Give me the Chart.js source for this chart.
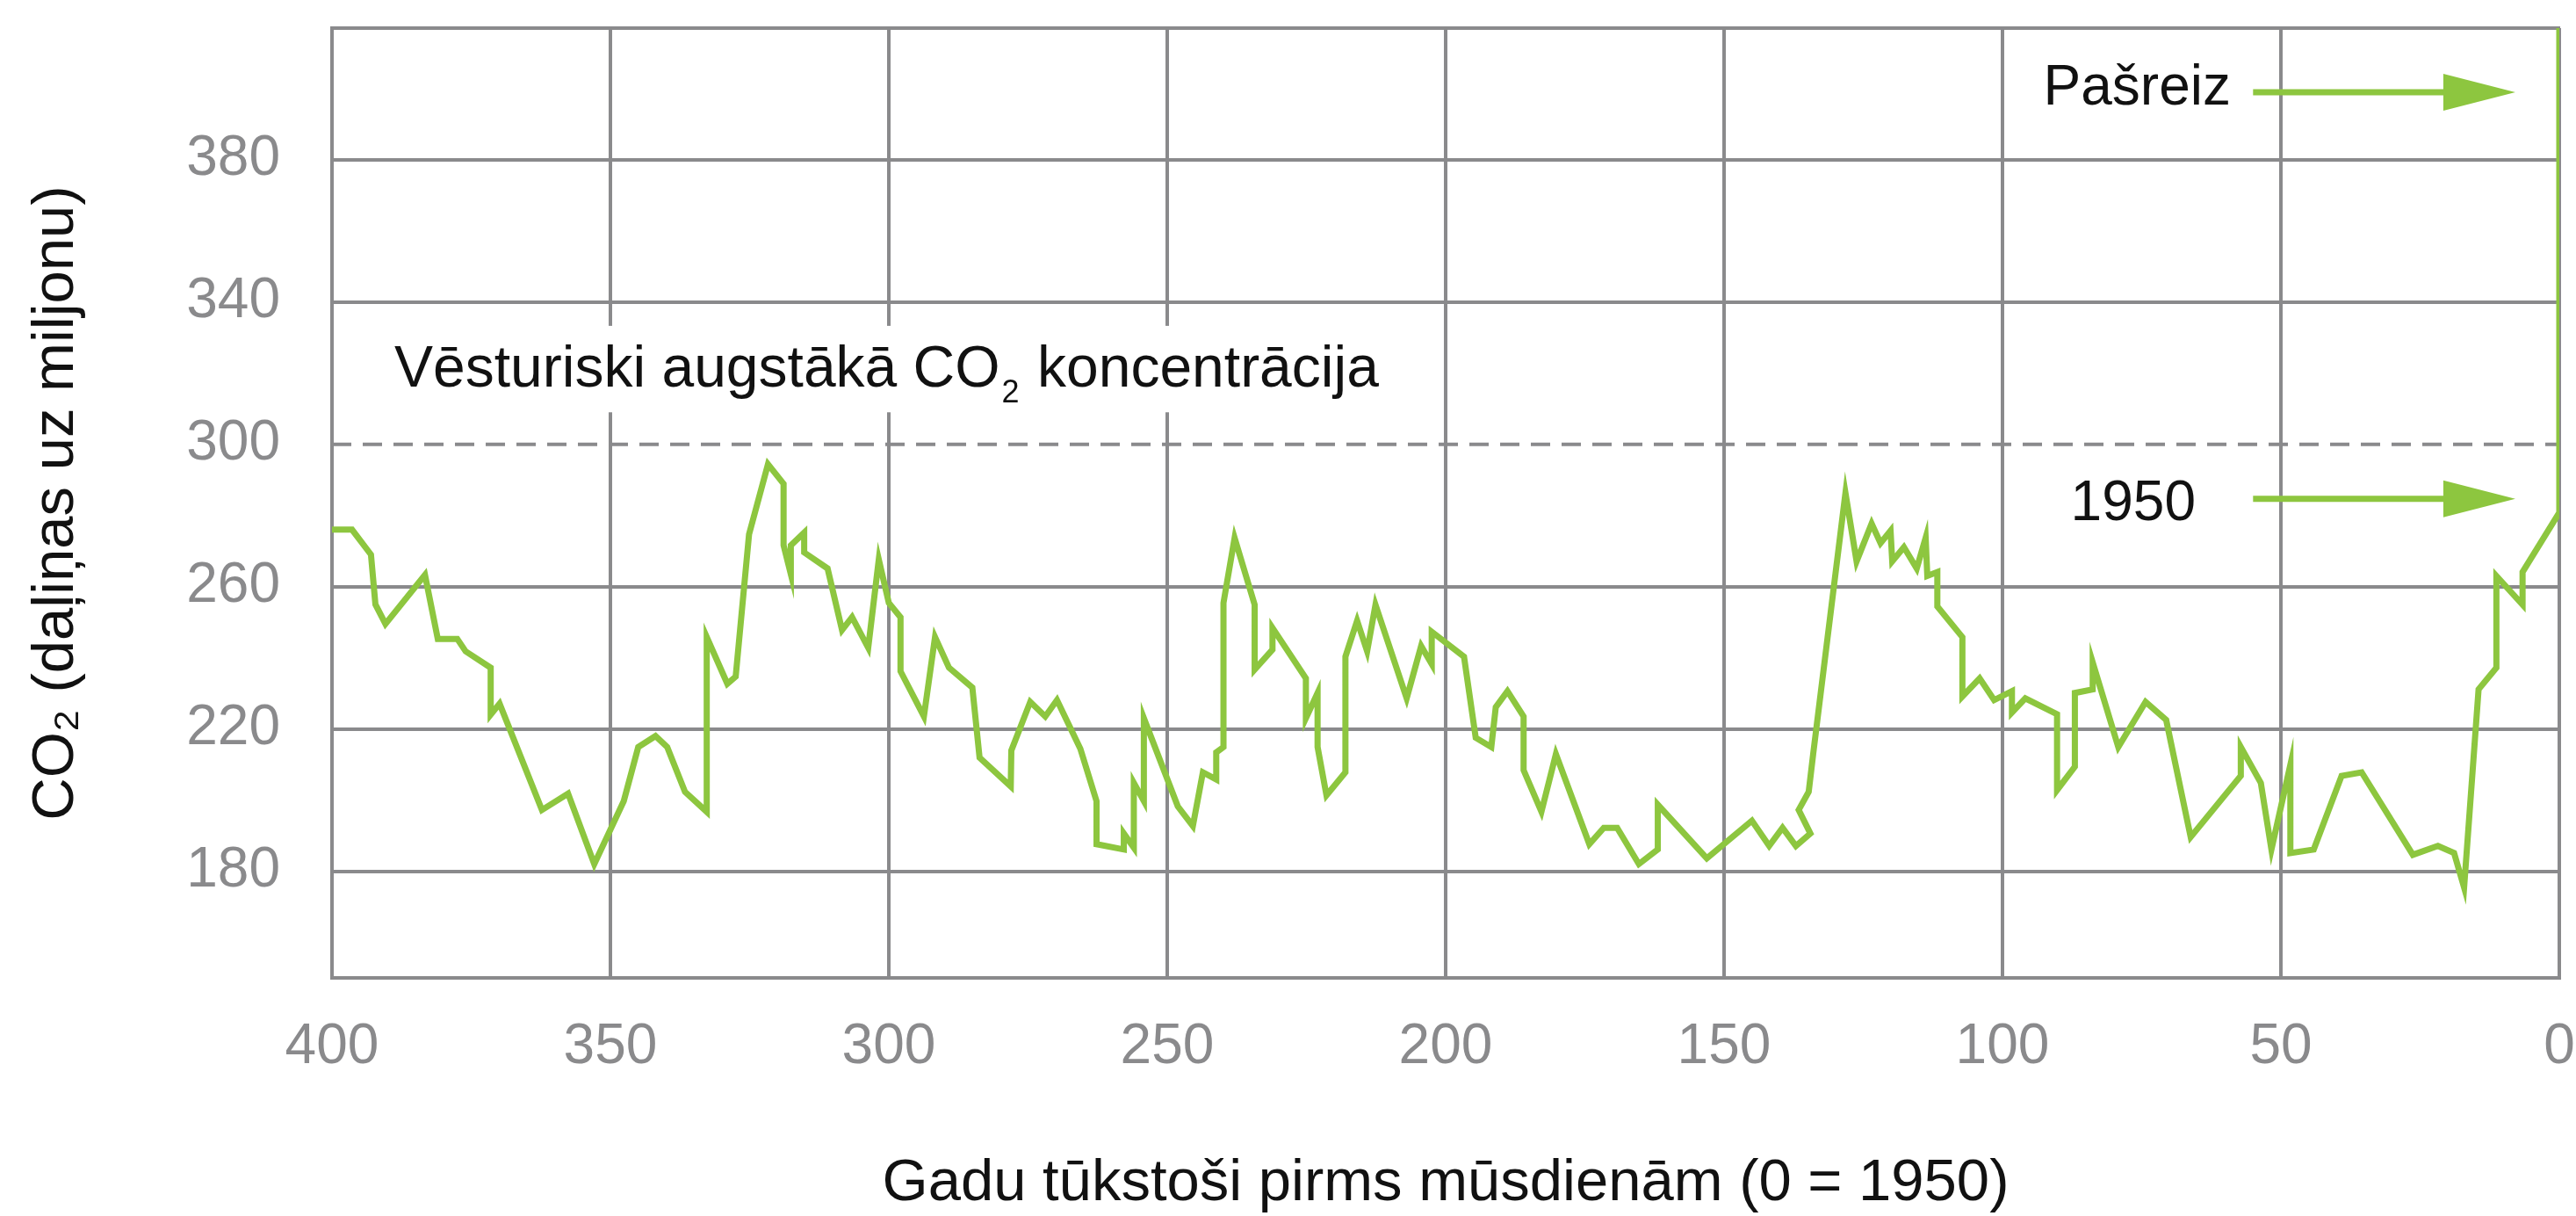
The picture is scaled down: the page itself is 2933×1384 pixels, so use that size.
<!DOCTYPE html>
<html lang="lv">
<head>
<meta charset="utf-8">
<title>CO2 koncentrācija pēdējos 400 000 gados</title>
<script src="https://cdn.jsdelivr.net/npm/chart.js@4.4.1/dist/chart.umd.min.js"></script>
<style>
    html, body { margin: 0; padding: 0; background: #fff; }
    #co2-chart { display: block; }
</style>
</head>
<body>
<canvas id="co2-chart" width="2933" height="1384"></canvas>
<script>
'use strict';

// Gadu tūkstoši pirms 1950. gada (x) un CO2 ppm (y), nolasīts no attēla
const ageKyr = [
    400, 396.4, 393, 392.2, 390.4, 383.3, 381, 377.5, 376, 371.5,
    371.5, 369.9, 362.3, 357.6, 352.9, 347.6, 345, 341.9, 339.8, 336.6,
    332.7, 332.7, 329, 327.5, 325.1, 321.7, 318.9, 318.9, 317.6, 317.6,
    315.2, 315.2, 311.0, 308.4, 306.6, 303.7, 301.8, 300, 297.9, 297.9,
    293.7, 291.7, 289.2, 285.0, 283.7, 278.1, 278.0, 274.6, 271.9, 269.8,
    265.6, 262.7, 262.7, 257.8, 257.8, 256.0, 256.0, 254.2, 254.2, 248.1,
    245.4, 243.6, 241.2, 241.2, 239.9, 239.9, 237.9, 234.3, 234.3, 231.1,
    231.1, 225.1, 225.1, 223.0, 223.0, 221.4, 218.0, 218.0, 215.9, 214.1,
    212.6, 207.0, 204.4, 202.5, 202.5, 196.7, 194.6, 191.8, 191.0, 188.9,
    186.0, 186.0, 182.8, 180.2, 174.2, 171.6, 169.2, 165.3, 161.9, 161.9,
    153.1, 145.0, 141.9, 139.5, 137.1, 134.5, 136.6, 134.8, 134.0, 128.2,
    126.2, 123.5, 121.9, 120.1, 119.8, 117.7, 115.4, 113.8, 113.5, 111.7,
    111.7, 107.2, 107.2, 104.1, 101.5, 98.3, 98.3, 95.9, 90.2, 90.2,
    87.0, 87.0, 83.8, 83.8, 79.2, 74.3, 70.6, 66.2, 57.2, 57.2,
    53.6, 51.7, 48.3, 48.3, 44.1, 39.1, 35.5, 26.3, 21.8, 18.9,
    17.1, 14.5, 11.3, 11.3, 6.6, 6.6, 0, 0
];
const co2Ppm = [
    276, 276, 269, 255, 249.5, 263.3, 245.3, 245.3, 241.8, 237.2,
    224, 227.1, 197.2, 201.8, 182, 199.7, 214.9, 218, 214.9, 202.3,
    196.7, 245.8, 232.7, 234.7, 274.7, 294.4, 288.9, 271.6, 263.5, 271.6,
    275.2, 269.6, 265.1, 247.8, 251.4, 242.8, 267.6, 255.4, 251.4, 236.2,
    223.5, 245.8, 237.2, 231.6, 211.9, 203.8, 213.9, 227.6, 223.5, 228.1,
    214.4, 199.7, 187.6, 186.1, 190.6, 186.6, 204.8, 199.7, 223.0, 198.2,
    192.7, 207.8, 205.8, 213.4, 214.9, 255.4, 273.7, 254.9, 236.7, 242.3,
    248.4, 234.2, 223.0, 230.1, 214.9, 201.3, 207.8, 240.3, 250.4, 241.8,
    254.9, 228.6, 243.3, 238.2, 247.3, 240.3, 217.5, 214.9, 226.1, 230.6,
    223.5, 208.4, 196.7, 212.9, 187.6, 192.2, 192.2, 182.0, 186.1, 198.7,
    183.6, 194.2, 187.1, 192.2, 187.1, 190.6, 197.2, 202.3, 212.9, 286.3,
    267.1, 277.7, 272.2, 275.7, 267.1, 271.1, 265.1, 273.7, 263.0, 264.1,
    254.4, 245.8, 229.1, 234.2, 228.1, 230.6, 224.6, 228.6, 224.1, 202.8,
    209.4, 230.1, 231.1, 238.7, 214.9, 227.6, 222.5, 189.6, 206.8, 214.9,
    204.8, 186.1, 209.9, 185.1, 186.1, 206.8, 207.8, 184.6, 187.1, 185.1,
    175.4, 231.1, 237.2, 263.0, 254.9, 264.1, 280.8, 417
];

const xTickStep = 50;
const yTickValues = [180, 220, 260, 300, 340, 380];
const historicMax = 300;

// teksts un bultas (datu koordinātās)
const historicNote = { x: 388.8, baseline: 316.2, boxTop: 333.3, boxBottom: 309 };
const arrowNotes = [
    { label: 'Pašreiz', labelRight: 59.0, baseline: 395.4, from: 55.0, to: 7.9, y: 399 },
    { label: '1950', labelRight: 65.3, baseline: 278.6, from: 55.0, to: 7.9, y: 284.7 }
];

const FONT = '"Liberation Sans", Arial, Helvetica, sans-serif';
const GREEN = '#8dc63f';
const GRID = '#8a8a8c';
const TICK_TEXT = '#8a8a8c';
const TEXT = '#111111';

const notesPlugin = {
    id: 'co2Notes',
    afterDatasetsDraw(chart) {
        const { ctx } = chart;
        const xs = chart.scales.x;
        const ys = chart.scales.y;
        ctx.save();

        // vēsturiskā maksimuma uzraksts uz balta fona
        const partA = 'Vēsturiski augstākā CO';
        const sub = '2';
        const partB = ' koncentrācija';
        ctx.font = `66px ${FONT}`;
        const wA = ctx.measureText(partA).width;
        const wB = ctx.measureText(partB).width;
        ctx.font = `36px ${FONT}`;
        const wS = ctx.measureText(sub).width;

        const tx = xs.getPixelForValue(historicNote.x);
        const ty = ys.getPixelForValue(historicNote.baseline);
        const top = ys.getPixelForValue(historicNote.boxTop);
        const bottom = ys.getPixelForValue(historicNote.boxBottom);
        ctx.fillStyle = '#fff';
        ctx.fillRect(tx - 18, top, wA + wS + wB + 40, bottom - top);

        ctx.fillStyle = TEXT;
        ctx.textAlign = 'left';
        ctx.textBaseline = 'alphabetic';
        ctx.font = `66px ${FONT}`;
        ctx.fillText(partA, tx, ty);
        ctx.font = `36px ${FONT}`;
        ctx.fillText(sub, tx + wA + 2, ty + 18);
        ctx.font = `66px ${FONT}`;
        ctx.fillText(partB, tx + wA + wS + 4, ty);

        // bultas
        arrowNotes.forEach((n) => {
            const y = ys.getPixelForValue(n.y);
            const x0 = xs.getPixelForValue(n.from);
            const tip = xs.getPixelForValue(n.to);
            const headLen = 82;
            const headHalf = 21;

            ctx.strokeStyle = GREEN;
            ctx.lineWidth = 7;
            ctx.beginPath();
            ctx.moveTo(x0, y);
            ctx.lineTo(tip - headLen + 2, y);
            ctx.stroke();

            ctx.fillStyle = GREEN;
            ctx.beginPath();
            ctx.moveTo(tip, y);
            ctx.lineTo(tip - headLen, y - headHalf);
            ctx.lineTo(tip - headLen, y + headHalf);
            ctx.closePath();
            ctx.fill();

            ctx.fillStyle = TEXT;
            ctx.font = `64px ${FONT}`;
            ctx.textAlign = 'right';
            ctx.fillText(n.label, xs.getPixelForValue(n.labelRight), ys.getPixelForValue(n.baseline));
        });

        ctx.restore();
    }
};

function createCo2Chart() {
    const ctx = document.getElementById('co2-chart').getContext('2d');
    Chart.defaults.font.family = FONT;

    const xMin = 0;
    const xMax = 400;

    new Chart(ctx, {
        type: 'line',
        data: {
            datasets: [
                {
                    data: ageKyr.map((a, i) => ({ x: a, y: co2Ppm[i] })),
                    borderColor: GREEN,
                    borderWidth: 7,
                    borderJoinStyle: 'miter',
                    pointRadius: 0,
                    tension: 0,
                    fill: false
                },
                {
                    data: [{ x: xMax, y: historicMax }, { x: xMin, y: historicMax }],
                    borderColor: GRID,
                    borderWidth: 4,
                    borderDash: [22, 13],
                    pointRadius: 0,
                    fill: false
                }
            ]
        },
        options: {
            responsive: false,
            animation: false,
            events: [],
            layout: {
                padding: { top: 32, right: 19, bottom: 0, left: 0 }
            },
            plugins: {
                legend: { display: false },
                tooltip: { enabled: false }
            },
            scales: {
                x: {
                    type: 'linear',
                    reverse: true,
                    min: xMin,
                    max: xMax,
                    afterFit(scale) {
                        scale.height = 271;
                        scale.paddingLeft = 0;
                        scale.paddingRight = 0;
                    },
                    ticks: {
                        stepSize: xTickStep,
                        padding: 41,
                        color: TICK_TEXT,
                        font: { size: 64 },
                        maxRotation: 0,
                        callback: (v) => String(v)
                    },
                    grid: { color: GRID, lineWidth: 4, drawTicks: false },
                    border: { display: true, color: GRID, width: 4 },
                    title: {
                        display: true,
                        text: 'Gadu tūkstoši pirms mūsdienām (0 = 1950)',
                        color: TEXT,
                        font: { size: 67, lineHeight: 1 },
                        padding: { top: 0, bottom: 3 }
                    }
                },
                xTop: {
                    type: 'linear',
                    position: 'top',
                    reverse: true,
                    min: xMin,
                    max: xMax,
                    afterFit(scale) {
                        scale.height = 0;
                        scale.paddingLeft = 0;
                        scale.paddingRight = 0;
                    },
                    ticks: { display: false },
                    grid: { display: false, drawTicks: false },
                    border: { display: true, color: GRID, width: 4 }
                },
                y: {
                    type: 'linear',
                    min: 150,
                    max: 417,
                    afterFit(scale) {
                        scale.width = 378;
                        scale.paddingTop = 0;
                        scale.paddingBottom = 0;
                    },
                    afterBuildTicks(scale) {
                        scale.ticks = yTickValues.map((v) => ({ value: v }));
                    },
                    ticks: {
                        padding: 59,
                        color: TICK_TEXT,
                        font: { size: 64 },
                        callback: (v) => String(v)
                    },
                    grid: {
                        lineWidth: 4,
                        drawTicks: false,
                        color: (c) => (c.tick && c.tick.value === historicMax ? 'rgba(0,0,0,0)' : GRID)
                    },
                    border: { display: true, color: GRID, width: 4 },
                    title: {
                        display: true,
                        text: 'CO₂ (daļiņas uz miljonu)',
                        color: TEXT,
                        font: { size: 67, lineHeight: 1 },
                        padding: { top: 31, bottom: 0 }
                    }
                }
            }
        },
        plugins: [notesPlugin]
    });
}

createCo2Chart();
</script>
</body>
</html>
